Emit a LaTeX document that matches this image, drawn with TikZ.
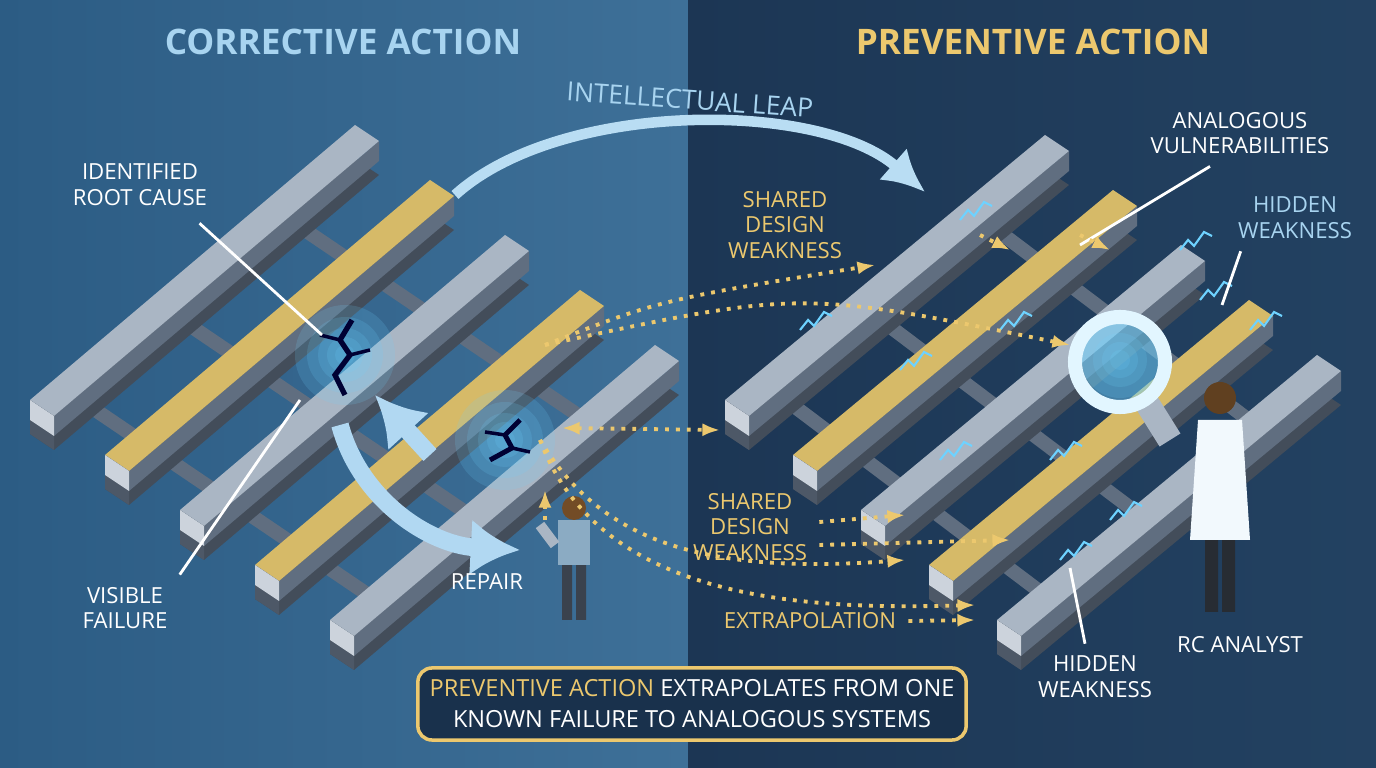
\documentclass[tikz,border=0pt]{standalone}
\usepackage{fontspec}
\setmainfont{Open Sans}
\usetikzlibrary{arrows.meta}
\definecolor{bgleft}{RGB}{44,92,132}
\definecolor{bgmid}{RGB}{62,112,152}
\definecolor{bgright}{RGB}{28,54,84}
\definecolor{steel}{RGB}{170,182,196}
\definecolor{steelside}{RGB}{96,110,128}
\definecolor{gold}{RGB}{214,186,104}
\definecolor{titleblue}{RGB}{168,212,240}
\definecolor{titlegold}{RGB}{236,200,110}
\definecolor{glow}{RGB}{110,210,255}
\tikzset{label/.style={font=\fontsize{6.3}{7.3}\selectfont, text=white, align=center},
  goldlabel/.style={label, text=titlegold},
  pointer/.style={draw=white, line width=0.8pt},
  extrap/.style={-{Latex[length=5pt]}, draw=titlegold, line width=1.1pt, dotted},
  leap/.style={-{Latex[length=12pt,width=12pt]}, draw=titleblue!80, line width=3pt},
  repairarrow/.style={-{Latex[length=14pt,width=16pt]}, draw=titleblue!90, line width=5pt}}
% beam: start x, start y, dx, dy, top colour
\newcommand{\beam}[5]{%
  \fill[steelside!70!black] (#1,#2+34) -- ++(#3,#4) -- ++(24,16) -- ++(-#3,-#4) -- cycle;
  \fill[steelside] (#1+24,#2+16) -- ++(#3,#4) -- ++(0,20) -- ++(-#3,-#4) -- cycle;
  \fill[#5] (#1,#2) -- ++(#3,#4) -- ++(24,16) -- ++(-#3,-#4) -- cycle;
  \fill[steelside!80!black] (#1,#2) -- ++(0,34) -- ++(24,16) -- ++(0,-34) -- cycle;
  \fill[steel!60!white] (#1,#2) -- ++(24,16) -- ++(0,20) -- ++(-24,-16) -- cycle;}
\newcommand{\glowat}[2]{%
  \foreach \r in {50,38,27,18,10} \fill[glow,opacity=0.16] (#1,#2) circle (\r);}
\begin{document}
\begin{tikzpicture}[x=0.01cm,y=-0.01cm]
  \useasboundingbox (0,0) rectangle (1376,768);
  \shade[left color=bgleft, right color=bgmid] (0,0) rectangle (688,768);
  \shade[left color=bgright, right color=bgright!80!bgmid] (688,0) rectangle (1376,768);
  %% cross bars
  \foreach \t in {0.15,0.45,0.8} {
    \draw[steelside, line width=4pt] (30+325*\t,440-275*\t) -- (340+325*\t,650-275*\t);
    \draw[steelside, line width=4pt] (725+320*\t,430-265*\t) -- (1010+320*\t,645-265*\t);}
  %% corrective beams
  \foreach \i/\c in {0/steel,1/gold,2/steel,3/gold,4/steel}
    \beam{30+75*\i}{400+55*\i}{325}{-275}{\c};
  %% preventive beams
  \foreach \i/\c in {0/steel,1/gold,2/steel,3/gold,4/steel}
    \beam{725+68*\i}{400+55*\i}{320}{-265}{\c};
  %% cracks
  \glowat{345}{355}
  \glowat{505}{440}
  \draw[black!80!blue, line width=1.5pt] (352,320) -- (340,340) -- (350,355) -- (335,375) -- (345,395);
  \draw[black!80!blue, line width=1pt] (340,340) -- (320,335) (350,355) -- (370,350);
  \draw[black!80!blue, line width=1.4pt] (520,420) -- (505,435) -- (512,448) -- (490,460);
  \draw[black!80!blue, line width=1pt] (505,435) -- (485,432) (512,448) -- (530,452);
  \foreach \x/\y in {800/330,900/370,1000/330,940/460,1050/460,1110/520,1200/300,1180/250,960/220,1060/560,1250/330}
    \draw[glow, line width=0.6pt] (\x,\y) -- ++(8,-10) -- ++(6,6) -- ++(10,-14) -- ++(8,4);
  %% titles
  \node[font=\bfseries\fontsize{10}{12}\selectfont, text=titleblue] (corrTitle) at (343,42) {CORRECTIVE ACTION};
  \node[font=\bfseries\fontsize{10}{12}\selectfont, text=titlegold] (prevTitle) at (1033,42) {PREVENTIVE ACTION};
  %% leap
  \coordinate (leapA) at (455,195);
  \coordinate (leapB) at (925,192);
  \draw[leap] (leapA) .. controls (560,100) and (820,100) .. (leapB);
  \node[font=\fontsize{7.5}{9}\selectfont, text=titleblue, rotate=-4] (leapLbl) at (690,100) {INTELLECTUAL LEAP};
  %% repair arrows
  \coordinate (repA) at (340,425);
  \coordinate (repB) at (520,550);
  \draw[repairarrow] (repA) .. controls (360,500) and (430,545) .. (repB);
  \coordinate (upA) at (430,455);
  \coordinate (upB) at (375,395);
  \draw[repairarrow] (upA) -- (upB);
  %% repair person
  \fill[steelside!60!black] (562,560) rectangle (572,620) (576,560) rectangle (586,620);
  \fill[titleblue!60!steelside] (558,520) rectangle (590,565);
  \fill[brown!60!black] (574,508) circle (12);
  \draw[steel, line width=3pt] (540,525) -- (555,545);
  %% analyst
  \fill[steelside!40!black] (1205,520) rectangle (1218,612) (1222,520) rectangle (1235,612);
  \fill[white!85!titleblue] (1198,420) -- (1242,420) -- (1250,540) -- (1190,540) -- cycle;
  \fill[brown!50!black] (1220,398) circle (16);
  %% magnifier
  \glowat{1120}{360}
  \draw[steel, line width=7pt] (1145,400) -- (1170,440);
  \draw[white!80!glow, line width=4pt, fill=glow, fill opacity=0.35] (1120,362) circle (45);
  %% labels
  \node[label] (rootLbl) at (140,185) {IDENTIFIED\\ROOT CAUSE};
  \coordinate (rootPt) at (322,335);
  \draw[pointer] (rootLbl.south east) ++(-20,5) -- (rootPt);
  \node[label] (failLbl) at (125,608) {VISIBLE\\FAILURE};
  \coordinate (failPt) at (300,400);
  \draw[pointer] (failLbl.north east) -- (failPt);
  \node[label] (repairLbl) at (487,582) {REPAIR};
  \node[goldlabel] (shared1) at (785,225) {SHARED\\DESIGN\\WEAKNESS};
  \node[label] (analogLbl) at (1240,133) {ANALOGOUS\\VULNERABILITIES};
  \coordinate (analogPt) at (1080,245);
  \draw[pointer] (analogLbl.south) ++(-30,0) -- (analogPt);
  \node[label, text=titleblue] (hidden1) at (1295,218) {HIDDEN\\WEAKNESS};
  \coordinate (hiddenPt1) at (1222,305);
  \draw[pointer] (hidden1.south west) ++(15,0) -- (hiddenPt1);
  \node[goldlabel] (shared2) at (750,527) {SHARED\\DESIGN\\WEAKNESS};
  \node[goldlabel] (extrapLbl) at (810,621) {EXTRAPOLATION};
  \node[label] (hidden2) at (1095,677) {HIDDEN\\WEAKNESS};
  \coordinate (hiddenPt2) at (1070,568);
  \draw[pointer] (hidden2.north) ++(-10,0) -- (hiddenPt2);
  \node[label] (analystLbl) at (1240,645) {RC ANALYST};
  %% extrapolation arrows
  \coordinate (src1) at (545,345);
  \coordinate (src2) at (562,428);
  \coordinate (src3) at (540,440);
  \coordinate (tgtA) at (875,265);
  \coordinate (tgtB) at (1070,345);
  \coordinate (tgtC) at (720,430);
  \coordinate (tgtD) at (905,560);
  \coordinate (tgtE) at (975,605);
  \coordinate (tgtF) at (905,515);
  \coordinate (tgtG) at (1010,540);
  \coordinate (tgtH) at (975,620);
  \draw[extrap] (src1) .. controls (660,300) .. (tgtA);
  \draw[extrap] (src1) .. controls (800,290) .. (tgtB);
  \draw[extrap, {Latex[length=5pt]}-{Latex[length=5pt]}] (src2) -- (tgtC);
  \draw[extrap] (src3) .. controls (600,540) and (700,575) .. (tgtD);
  \draw[extrap] (src3) .. controls (600,600) and (800,610) .. (tgtE);
  \draw[extrap] (shared2.east) ++(0,-5) -- (tgtF);
  \draw[extrap] (shared2.east) ++(0,18) -- (tgtG);
  \draw[extrap] (extrapLbl.east) -- (tgtH);
  \draw[extrap] (545,520) -- (545,490);
  \foreach \s/\e in {980/1010, 1080/1110} \draw[extrap] (\s,235) -- (\e,250);
  %% summary box
  \node[draw=titlegold, line width=1pt, rounded corners=4pt, fill=bgright!90!black,
        minimum width=5.42cm, minimum height=0.72cm, align=center,
        font=\fontsize{6.7}{8.8}\selectfont, text=white] (summary) at (692,704)
    {\textcolor{titlegold}{PREVENTIVE ACTION} EXTRAPOLATES FROM ONE\\KNOWN FAILURE TO ANALOGOUS SYSTEMS};
\end{tikzpicture}
\end{document}
